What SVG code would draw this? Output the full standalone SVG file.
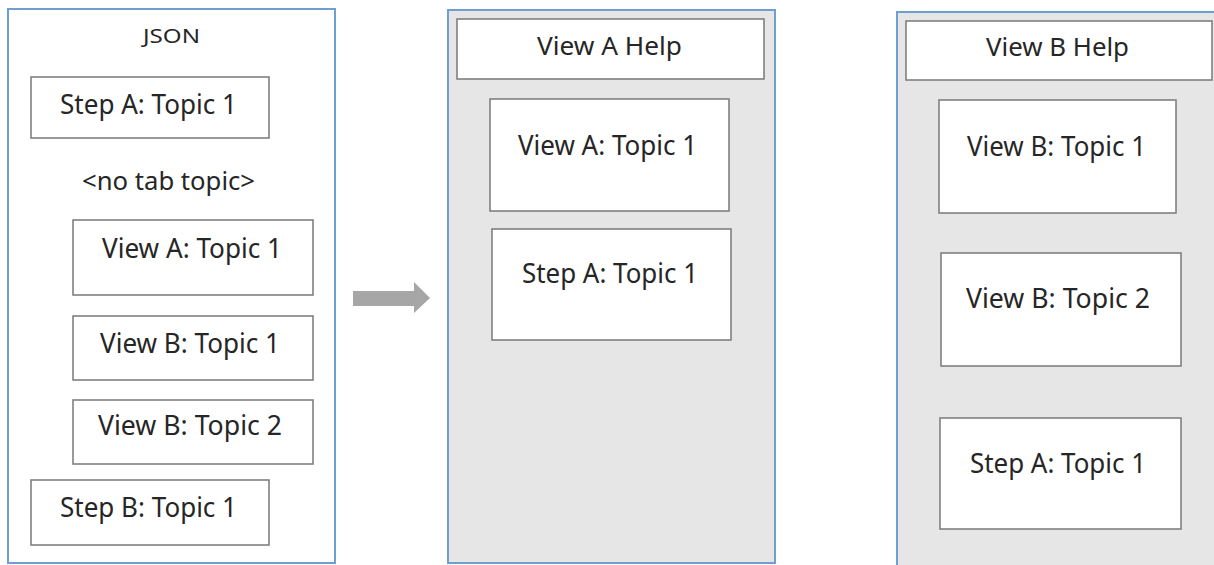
<svg xmlns="http://www.w3.org/2000/svg" width="1214" height="565" viewBox="0 0 1214 565">
<style>
.panel{stroke:#6f9fd0;stroke-width:2}
.box{fill:#ffffff;stroke:#808080;stroke-width:1.6}
.t{font-family:"Noto Sans","Open Sans",sans-serif;fill:#262626;font-size:28px}
.h{font-size:25px}
</style>
<rect width="1214" height="565" fill="#ffffff"/>
<g id="json-panel">
<rect class="panel" x="8" y="9" width="327" height="554" fill="#ffffff"/>
<text class="t" x="143" y="43" style="font-size:19px" textLength="57" lengthAdjust="spacingAndGlyphs">JSON</text>
</g>
<g id="json-stepA"><rect class="box" x="31" y="77" width="238" height="61"/><text class="t" x="60" y="114" textLength="177" lengthAdjust="spacingAndGlyphs">Step A: Topic 1</text></g>
<g id="json-notab"><text class="t h" x="82" y="190" textLength="173" lengthAdjust="spacingAndGlyphs">&lt;no tab topic&gt;</text></g>
<g id="json-viewA1"><rect class="box" x="73" y="220" width="240" height="75"/><text class="t" x="102" y="258" textLength="180" lengthAdjust="spacingAndGlyphs">View A: Topic 1</text></g>
<g id="json-viewB1"><rect class="box" x="73" y="316" width="240" height="64"/><text class="t" x="100" y="353" textLength="180" lengthAdjust="spacingAndGlyphs">View B: Topic 1</text></g>
<g id="json-viewB2"><rect class="box" x="73" y="400" width="240" height="64"/><text class="t" x="98" y="435" textLength="184" lengthAdjust="spacingAndGlyphs">View B: Topic 2</text></g>
<g id="json-stepB"><rect class="box" x="31" y="480" width="238" height="65"/><text class="t" x="60" y="517" textLength="177" lengthAdjust="spacingAndGlyphs">Step B: Topic 1</text></g>

<g id="connectors">
<polygon points="353,291 414,291 414,282 430,298 414,313 414,306 353,306" fill="#a6a6a6"/>
</g>

<g id="viewA-panel">
<rect class="panel" x="448" y="10" width="327" height="553" fill="#e6e6e6"/>
</g>
<g id="viewA-help"><rect class="box" x="457" y="19" width="307" height="60"/><text class="t h" x="537" y="55" textLength="145" lengthAdjust="spacingAndGlyphs">View A Help</text></g>
<g id="viewA-viewA1"><rect class="box" x="490" y="99" width="239" height="112"/><text class="t" x="518" y="155" textLength="179" lengthAdjust="spacingAndGlyphs">View A: Topic 1</text></g>
<g id="viewA-stepA"><rect class="box" x="492" y="229" width="239" height="111"/><text class="t" x="522" y="283" textLength="176" lengthAdjust="spacingAndGlyphs">Step A: Topic 1</text></g>

<g id="viewB-panel">
<rect class="panel" x="897" y="12" width="330" height="560" fill="#e6e6e6"/>
</g>
<g id="viewB-help"><rect class="box" x="906" y="21" width="306" height="59"/><text class="t h" x="986" y="56" textLength="143" lengthAdjust="spacingAndGlyphs">View B Help</text></g>
<g id="viewB-viewB1"><rect class="box" x="939" y="100" width="237" height="113"/><text class="t" x="967" y="156" textLength="179" lengthAdjust="spacingAndGlyphs">View B: Topic 1</text></g>
<g id="viewB-viewB2"><rect class="box" x="941" y="253" width="240" height="113"/><text class="t" x="966" y="308" textLength="184" lengthAdjust="spacingAndGlyphs">View B: Topic 2</text></g>
<g id="viewB-stepA"><rect class="box" x="940" y="418" width="241" height="111"/><text class="t" x="970" y="473" textLength="176" lengthAdjust="spacingAndGlyphs">Step A: Topic 1</text></g>
</svg>
